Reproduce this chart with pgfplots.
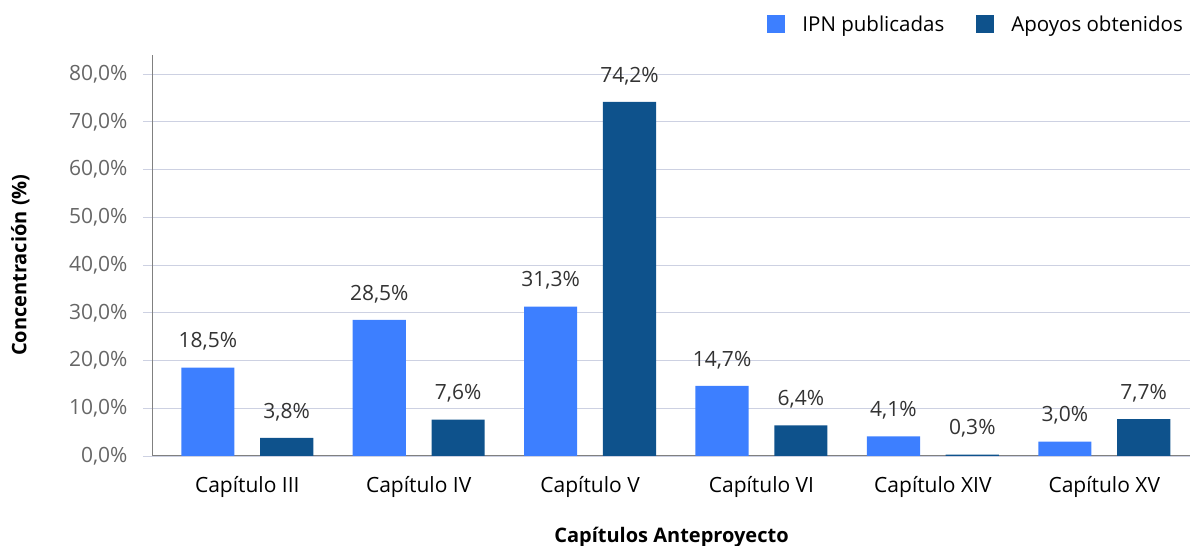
\documentclass[border=0pt]{standalone}
\usepackage{pgfplots}
\pgfplotsset{compat=1.18}
\usepackage{fontspec}
\setmainfont{Open Sans}
\definecolor{lightb}{HTML}{3D7FFF}
\definecolor{darkb}{HTML}{0E528C}
\definecolor{gridc}{HTML}{CDD1E2}
\definecolor{axc}{HTML}{808080}
\definecolor{tickc}{HTML}{666666}
\definecolor{labc}{HTML}{333333}
\newcommand{\fs}{\fontsize{21}{25}\selectfont}
\newcommand{\fx}{\fontsize{21}{25}\selectfont}
\newcommand{\fg}{\fontsize{20.5}{25}\selectfont}
\newcommand{\fl}{\fontsize{20}{24}\selectfont\bfseries}
\begin{document}
\begin{tikzpicture}[x=1pt,y=1pt]
\begin{axis}[
  at={(153pt,90pt)}, anchor=south west,
  scale only axis, width=1037pt, height=401pt,
  xmin=-0.55, xmax=5.5, ymin=0, ymax=84,
  axis x line=bottom, axis y line=left,
  axis line style={axc, line width=1pt, -},
  ytick={0,10,...,80},
  ymajorgrids, grid style={gridc, line width=0.8pt},
  ytick style={gridc, line width=0.8pt}, major tick length=10pt, tick align=outside,
  xtick={0,...,5}, xtick style={draw=none},
  xticklabels={Capítulo III, Capítulo IV, Capítulo V, Capítulo VI, Capítulo XIV, Capítulo XV},
  xticklabel style={font=\fx, text=black, yshift=-7pt},
  yticklabel={\pgfmathprintnumber[fixed,fixed zerofill,precision=1,use comma,assume math mode=true]{\tick}\%},
  yticklabel style={font=\fs, text=tickc, xshift=-12pt},
  ylabel={Concentración (\%)},
  ylabel style={font=\fl, at={(axis description cs:-0.128,0.476)}, anchor=center, rotate=0},
  xlabel={Capítulos Anteproyecto},
  xlabel style={font=\fl, at={(axis description cs:0.5,-0.202)}, anchor=center},
  ybar, bar width=0.31,
  nodes near coords={\pgfmathprintnumber[fixed,fixed zerofill,precision=1,use comma,assume math mode=true]{\pgfplotspointmeta}\%},
  nodes near coords style={font=\fs, text=labc, anchor=center, yshift=26pt},
  legend columns=2,
  legend style={draw=none, fill=none, at={(1,1)}, anchor=east, yshift=31pt, xshift=-5pt, font=\fg, inner sep=0pt,
    /tikz/every odd column/.style={column sep=15pt},
    /tikz/every even column/.style={column sep=30pt}},
  legend cell align=left,
]
\addplot[fill=lightb, draw=none, bar shift=-0.23,
  legend image code/.code={\fill[lightb] (0pt,-9pt) rectangle (18pt,9pt);}]
  coordinates {(0,18.5) (1,28.5) (2,31.3) (3,14.7) (4,4.1) (5,3.0)};
\addlegendentry{IPN publicadas}
\addplot[fill=darkb, draw=none, bar shift=0.23,
  legend image code/.code={\fill[darkb] (0pt,-9pt) rectangle (18pt,9pt);}]
  coordinates {(0,3.8) (1,7.6) (2,74.2) (3,6.4) (4,0.3) (5,7.7)};
\addlegendentry{Apoyos obtenidos}
\end{axis}
\pgfresetboundingbox
\path (0,0) rectangle (1192pt,546pt);
\end{tikzpicture}
\end{document}
